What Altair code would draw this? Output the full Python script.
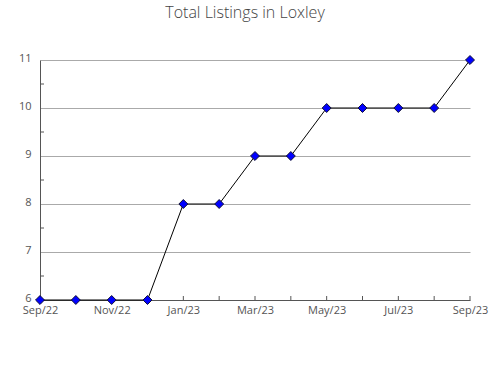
import altair as alt
import pandas as pd

months = ["Sep/22", "Oct/22", "Nov/22", "Dec/22", "Jan/23", "Feb/23", "Mar/23",
          "Apr/23", "May/23", "Jun/23", "Jul/23", "Aug/23", "Sep/23"]
listings = [6, 6, 6, 6, 8, 8, 9, 9, 10, 10, 10, 10, 11]
minor_y = [6.5, 7.5, 8.5, 9.5, 10.5]

df = pd.DataFrame({"month": months, "listings": listings})
minor_df = pd.DataFrame({"v": minor_y})
tick_df = pd.DataFrame({"month": months})

font = "Open Sans"
W, H = 430, 240

xscale = alt.Scale(type="point", domain=months, padding=0)
yscale = alt.Scale(domain=[6, 11], nice=False, zero=False)

x_axis = alt.Axis(
    title=None, labelExpr="indexof(" + str(months) + ", datum.value) % 2 == 0 ? datum.value : ''",
    ticks=False, grid=False, domainColor="#555555", labelColor="#555555",
    labelFont=font, labelFontSize=11, labelAngle=0, labelAlign="center",
    labelBaseline="top", labelPadding=4, labelOverlap=False,
)
y_axis = alt.Axis(
    title=None, values=[6, 7, 8, 9, 10, 11], format="d", ticks=False,
    gridColor="#aaaaaa", domainColor="#555555", labelColor="#555555",
    labelFont=font, labelFontSize=11, labelPadding=9, labelOverlap=False,
    labelOffset=-2,
)

base = alt.Chart(df)
line = base.mark_line(color="black", strokeWidth=1).encode(
    x=alt.X("month:O", scale=xscale, axis=x_axis, sort=months),
    y=alt.Y("listings:Q", scale=yscale, axis=y_axis),
)
pts = base.mark_point(shape="diamond", filled=True, fill="#0000ff", stroke="#111133",
                      strokeWidth=1, size=80, opacity=1).encode(
    x=alt.X("month:O", scale=xscale, sort=months, axis=x_axis),
    y=alt.Y("listings:Q", scale=yscale, axis=y_axis),
)
xticks = alt.Chart(tick_df).mark_rule(color="#555555", strokeWidth=1).encode(
    x=alt.X("month:O", scale=xscale, sort=months, axis=x_axis),
    y=alt.value(H - 4), y2=alt.value(H),
)
yticks = alt.Chart(minor_df).mark_rule(color="#555555", strokeWidth=1).encode(
    y=alt.Y("v:Q", scale=yscale, axis=y_axis),
    x=alt.value(0), x2=alt.value(4),
)

chart = alt.layer(xticks, yticks, line, pts).properties(
    width=W, height=H,
    autosize=alt.AutoSizeParams(type="none"),
    padding={"left": 40, "top": 60, "right": 20, "bottom": 80},
    title=alt.TitleParams("Total Listings in Loxley", font=font, fontSize=16,
                          fontWeight=300, color="#444444", offset=31, dx=-10),
).configure_view(stroke=None)

chart.save("out.html", embed_options={"renderer": "svg", "actions": False})
